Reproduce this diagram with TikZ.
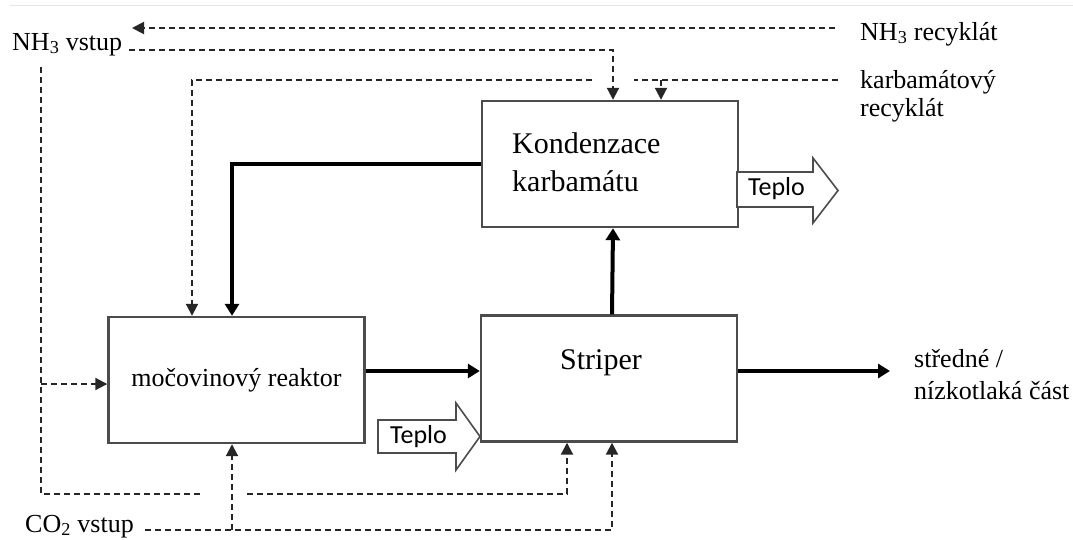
\documentclass[tikz,border=0pt]{standalone}
\usepackage{fontspec}
\setmainfont{Liberation Serif}
\newfontfamily\teplofont{Carlito}
\usetikzlibrary{arrows.meta}
\begin{document}
\begin{tikzpicture}[x=1pt,y=-1pt,line join=miter]
	\definecolor{boxgray}{rgb}{0.3,0.3,0.3}
	\definecolor{dashgray}{rgb}{0.15,0.15,0.15}
	\definecolor{rulegray}{rgb}{0.9,0.9,0.9}
	\tikzset{
		blok/.style={draw=boxgray,line width=2.4pt,fill=white,minimum width=256pt,minimum height=126pt,inner sep=0pt,font=\fontsize{26}{30}\selectfont},
		txt/.style={inner sep=0pt,font=\fontsize{26}{30}\selectfont},
		tok/.style={draw=dashgray,line width=2pt,dash pattern=on 6pt off 4pt},
		tokarr/.style={tok,-{Triangle[length=12pt,width=12pt]}},
		hlavni/.style={line width=4pt,-{Triangle[length=12pt,width=14pt]}},
		teplo/.style={draw=boxgray,line width=1.6pt,fill=white},
		teplotxt/.style={inner sep=0pt,font=\teplofont\fontsize{26}{30}\selectfont}
	}
	\useasboundingbox (0,0) rectangle (1073,539);
	\draw[rulegray,line width=1pt] (10,5)--(1073,5);
	
	%%%%%%%%%%%%%%%%%% bloky
	\node[blok] (kond) at (610,164) {};
	\node[blok] (reak) at (236.5,380) {močovinový reaktor};
	\node[blok] (strip) at (609,378.5) {};
	\node[inner sep=0pt,font=\fontsize{30}{38}\selectfont,anchor=north west,align=left] (kondtxt) at (512,132) {Kondenzace\\karbamátu};
	\node[inner sep=0pt,font=\fontsize{30}{38}\selectfont,anchor=base west] (striptxt) at (560,369) {Striper};
	
	%%%%%%%%%%%%%%%%%% popisky
	\node[txt,anchor=base west] (nh3in) at (12,50) {NH\textsubscript{3} vstup};
	\node[txt,anchor=base west] (nh3rec) at (860,40) {NH\textsubscript{3} recyklát};
	\node[inner sep=0pt,font=\fontsize{26}{28}\selectfont,anchor=north west,align=left] (karbrec) at (860,70) {karbamátový\\recyklát};
	\node[txt,anchor=base west] (co2in) at (25,532) {CO\textsubscript{2} vstup};
	\node[inner sep=0pt,font=\fontsize{26}{32}\selectfont,anchor=north west,align=left] (vysttxt) at (914,349) {středné /\\nízkotlaká část};
	
	%%%%%%%%%%%%%%%%%% teplo
	\draw[teplo] (737,172)--(813,172)--(813,158)--(838,190.5)--(813,223)--(813,207)--(737,207)--cycle;
	\node[teplotxt,anchor=base west] (teploA) at (748,195) {Teplo};
	\draw[teplo] (378,420)--(456,420)--(456,403)--(480,436.5)--(456,470)--(456,453)--(378,453)--cycle;
	\node[teplotxt,anchor=base west] (teploB) at (390,443) {Teplo};
	
	%%%%%%%%%%%%%%%%%% carkovane toky
	\coordinate (recA) at (835,28);
	\coordinate (recB) at (132,28);
	\draw[tokarr] (recA)--(recB);
	
	\coordinate (vstA) at (129,50);
	\draw[tokarr] (vstA) -| ([xshift=3pt]kond.north);
	\coordinate (vstB) at (41,67);
	\coordinate (vstC) at (200,494);
	\draw[tok] (vstB) |- (vstC);
	\draw[tokarr] (vstB |- reak.west) ++(0,4) -- ([yshift=-4pt]reak.west);
	\coordinate (vstD) at (247,494);
	\draw[tokarr] (vstD) -| ([xshift=-42pt]strip.south);
	
	\coordinate (karbA) at (838,80);
	\coordinate (karbB) at (634,80);
	\draw[tok] (karbA)--(karbB);
	\coordinate (karbD) at (661,80);
	\draw[tokarr] (karbD)--(karbD |- kond.north);
	\coordinate (karbE) at (592,80);
	\coordinate (karbF) at (192,80);
	\draw[tokarr] (karbE)--(karbF)--(karbF |- reak.north);
	
	\coordinate (co2A) at (145,530);
	\draw[tokarr] (co2A) -| ([xshift=3pt]strip.south);
	\coordinate (co2B) at (232,530);
	\draw[tokarr] (co2B)--(co2B |- reak.south);
	
	%%%%%%%%%%%%%%%%%% hlavni toky
	\coordinate (zpet) at (232,164);
	\draw[hlavni] (kond.west)--(zpet)--(zpet |- reak.north);
	\coordinate (proud) at (0,371);
	\draw[hlavni] (reak.east |- proud)--(strip.west |- proud);
	\draw[hlavni] ([xshift=3pt]strip.north)--([xshift=3pt]kond.south);
	\coordinate (vystup) at (890,371);
	\draw[hlavni] (strip.east |- proud)--(vystup);
\end{tikzpicture}
\end{document}
